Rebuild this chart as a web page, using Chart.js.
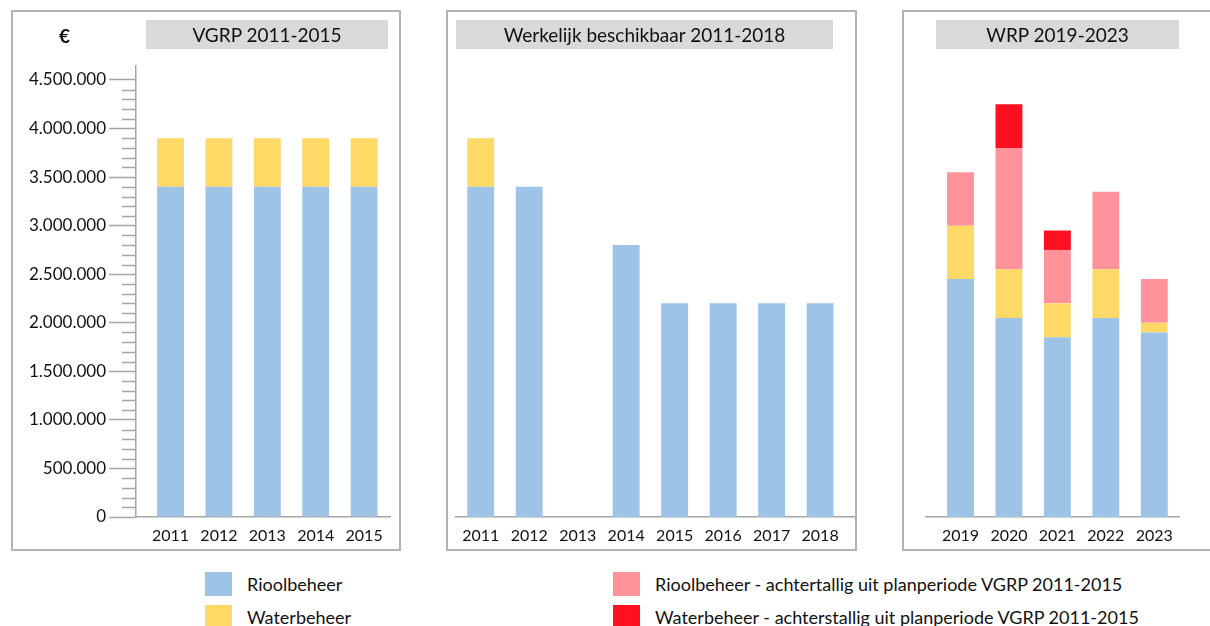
<!DOCTYPE html>
<html>
<head>
<meta charset="utf-8">
<script src="https://cdn.jsdelivr.net/npm/chart.js@4/dist/chart.umd.min.js"></script>
<style>
    body { margin: 0; width: 1210px; height: 626px; background: #fff; position: relative; overflow: hidden; font-family: Lato, sans-serif; color: #111; }
    canvas { position: absolute; }
    .panel { position: absolute; box-sizing: border-box; border: 2px solid #b3b3b3; pointer-events: none; }
    .banner { position: absolute; background: #d9d9d9; height: 29px; line-height: 29px; text-align: center; font-size: 19px; top: 20px; }
    .euro { position: absolute; left: 59px; top: 24px; font-size: 19px; font-weight: bold; }
    .swatch { position: absolute; width: 27px; height: 24px; }
    .legend-text { position: absolute; font-size: 18px; line-height: 24px; }
</style>
</head>
<body>
<canvas id="vgrp-chart" width="389" height="540" style="left:11px;top:10px"></canvas>
<canvas id="werkelijk-chart" width="410" height="540" style="left:446px;top:10px"></canvas>
<canvas id="wrp-chart" width="308" height="540" style="left:902px;top:10px"></canvas>

<div class="panel" style="left:11px;top:10px;width:390px;height:541px"></div>
<div class="panel" style="left:446px;top:10px;width:411px;height:541px"></div>
<div class="panel" style="left:902px;top:10px;width:320px;height:541px"></div>

<div class="euro">€</div>
<div class="banner" style="left:146px;width:242px">VGRP 2011-2015</div>
<div class="banner" style="left:456px;width:377px">Werkelijk beschikbaar 2011-2018</div>
<div class="banner" style="left:936px;width:243px">WRP 2019-2023</div>

<div class="swatch" style="left:205px;top:572px;background:#9dc3e6"></div>
<div class="legend-text" style="left:247px;top:572px">Rioolbeheer</div>
<div class="swatch" style="left:205px;top:605px;background:#ffd966"></div>
<div class="legend-text" style="left:247px;top:605px">Waterbeheer</div>
<div class="swatch" style="left:613px;top:572px;background:#ff929a"></div>
<div class="legend-text" style="left:655px;top:572px">Rioolbeheer - achtertallig uit planperiode VGRP 2011-2015</div>
<div class="swatch" style="left:613px;top:605px;background:#ff0f1f"></div>
<div class="legend-text" style="left:655px;top:605px">Waterbeheer - achterstallig uit planperiode VGRP 2011-2015</div>

<script>
// VGRP 2011-2015
const vgrpYears = ['2011', '2012', '2013', '2014', '2015'];
const vgrpRiool = [3400000, 3400000, 3400000, 3400000, 3400000];
const vgrpWater = [500000, 500000, 500000, 500000, 500000];

// Werkelijk beschikbaar 2011-2018
const werkelijkYears = ['2011', '2012', '2013', '2014', '2015', '2016', '2017', '2018'];
const werkelijkRiool = [3400000, 3400000, 0, 2800000, 2200000, 2200000, 2200000, 2200000];
const werkelijkWater = [500000, 0, 0, 0, 0, 0, 0, 0];

// WRP 2019-2023
const wrpYears = ['2019', '2020', '2021', '2022', '2023'];
const wrpRiool = [2450000, 2050000, 1850000, 2050000, 1900000];
const wrpWater = [550000, 500000, 350000, 500000, 100000];
const wrpRioolAchterstallig = [550000, 1250000, 550000, 800000, 450000];
const wrpWaterAchterstallig = [0, 450000, 200000, 0, 0];

// Value axis
const yMajorTicks = [0, 500000, 1000000, 1500000, 2000000, 2500000, 3000000, 3500000, 4000000, 4500000];
const yMinorStep = 100000;
const yMax = 4644000;

const colors = {
    riool: '#9dc3e6',
    water: '#ffd966',
    rioolAchter: '#ff929a',
    waterAchter: '#ff0f1f'
};
const axisColor = '#a6a6a6';

Chart.defaults.font.family = 'Lato, sans-serif';
Chart.defaults.color = '#111';

// Format 4500000 as 4.500.000
function formatEuro(value) {
    return String(value).replace(/\B(?=(\d{3})+(?!\d))/g, '.');
}

function toPoints(values) {
    return values.map((v, i) => ({ x: i, y: v }));
}

function makeDataset(label, values, color) {
    return {
        label: label,
        data: toPoints(values),
        backgroundColor: color,
        borderWidth: 0,
        stack: 'totaal',
        barPercentage: 0.555,
        categoryPercentage: 1
    };
}

// Short minor ticks between the labelled ones
const minorTicksPlugin = {
    id: 'minorTicks',
    afterDraw(chart) {
        const y = chart.scales.y;
        if (!y.options.display) return;
        const ctx = chart.ctx;
        const left = chart.chartArea.left;
        ctx.save();
        ctx.strokeStyle = axisColor;
        ctx.lineWidth = 1.5;
        for (let v = 0; v <= yMajorTicks[yMajorTicks.length - 1]; v += yMinorStep) {
            if (yMajorTicks.includes(v)) continue;
            const py = Math.round(y.getPixelForValue(v)) + 0.5;
            ctx.beginPath();
            ctx.moveTo(left - 14, py);
            ctx.lineTo(left, py);
            ctx.stroke();
        }
        ctx.restore();
    }
};

function makePanel(canvasId, years, datasets, layout) {
    const ctx = document.getElementById(canvasId).getContext('2d');
    return new Chart(ctx, {
        type: 'bar',
        data: { datasets: datasets },
        options: {
            responsive: false,
            animation: false,
            events: [],
            layout: { padding: layout.padding },
            plugins: {
                legend: { display: false },
                tooltip: { enabled: false }
            },
            scales: {
                x: {
                    type: 'linear',
                    offset: false,
                    min: layout.xMin,
                    max: layout.xMax,
                    afterBuildTicks: scale => {
                        scale.ticks = years.map((_, i) => ({ value: i }));
                    },
                    afterFit: scale => { scale.height = 33; },
                    ticks: {
                        autoSkip: false,
                        maxRotation: 0,
                        padding: 9,
                        font: { size: 16 },
                        callback: value => years[value]
                    },
                    grid: { display: true, offset: false, drawOnChartArea: false, drawTicks: false },
                    border: { display: true, color: axisColor, width: 1.5 }
                },
                y: {
                    display: layout.showY,
                    stacked: true,
                    min: 0,
                    max: yMax,
                    afterBuildTicks: scale => {
                        const ticks = [];
                        for (let v = 0; v <= yMajorTicks[yMajorTicks.length - 1]; v += yMinorStep) {
                            ticks.push({ value: v });
                        }
                        scale.ticks = ticks;
                    },
                    afterFit: scale => { scale.width = layout.showY ? 125 : 0; },
                    ticks: {
                        autoSkip: false,
                        padding: 3,
                        font: { size: 17 },
                        callback: value => yMajorTicks.includes(value) ? formatEuro(value) : ''
                    },
                    grid: {
                        drawOnChartArea: false,
                        tickLength: 27,
                        tickWidth: 1.5,
                        tickColor: c => (c.tick && yMajorTicks.includes(c.tick.value)) ? axisColor : 'rgba(0,0,0,0)'
                    },
                    border: { display: true, color: axisColor, width: 1.5 }
                }
            }
        },
        plugins: [minorTicksPlugin]
    });
}

makePanel('vgrp-chart', vgrpYears, [
    makeDataset('Rioolbeheer', vgrpRiool, colors.riool),
    makeDataset('Waterbeheer', vgrpWater, colors.water)
], { padding: { left: 0, top: 56, right: 10, bottom: 0 }, xMin: -0.713, xMax: 4.535, showY: true });

makePanel('werkelijk-chart', werkelijkYears, [
    makeDataset('Rioolbeheer', werkelijkRiool, colors.riool),
    makeDataset('Waterbeheer', werkelijkWater, colors.water)
], { padding: { left: 10, top: 56, right: 0, bottom: 0 }, xMin: -0.51, xMax: 7.74, showY: false });

makePanel('wrp-chart', wrpYears, [
    makeDataset('Rioolbeheer', wrpRiool, colors.riool),
    makeDataset('Waterbeheer', wrpWater, colors.water),
    makeDataset('Rioolbeheer - achtertallig uit planperiode VGRP 2011-2015', wrpRioolAchterstallig, colors.rioolAchter),
    makeDataset('Waterbeheer - achterstallig uit planperiode VGRP 2011-2015', wrpWaterAchterstallig, colors.waterAchter)
], { padding: { left: 24, top: 56, right: 31, bottom: 0 }, xMin: -0.712, xMax: 4.51, showY: false });
</script>
</body>
</html>
